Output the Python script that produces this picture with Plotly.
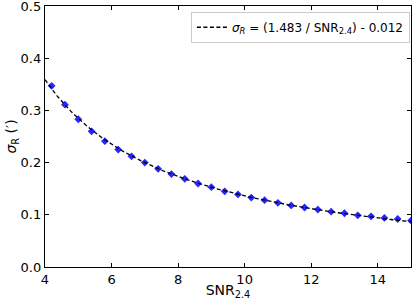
import numpy as np
import plotly.graph_objects as go

snr = [4.2, 4.6, 5.0, 5.4, 5.8, 6.2, 6.6, 7.0, 7.4, 7.8, 8.2, 8.6, 9.0, 9.4,
       9.8, 10.2, 10.6, 11.0, 11.4, 11.8, 12.2, 12.6, 13.0, 13.4, 13.8, 14.2, 14.6, 15.0]
sigma_r = [0.347, 0.311, 0.283, 0.260, 0.241, 0.225, 0.212, 0.200, 0.188, 0.178,
           0.169, 0.160, 0.153, 0.145, 0.139, 0.133, 0.128, 0.123, 0.118, 0.114,
           0.110, 0.106, 0.103, 0.099, 0.097, 0.094, 0.092, 0.089]
fit_a = 1.483
fit_b = 0.012

x_fit = np.linspace(4.0, 15.0, 200)
y_fit = fit_a / x_fit - fit_b

font = "DejaVu Sans"
fig = go.Figure()
fig.add_trace(go.Scatter(
    x=snr, y=sigma_r, mode="markers", showlegend=False,
    marker=dict(symbol="diamond", size=6, color="#2626ff", line=dict(width=0)),
    cliponaxis=True,
))
fig.add_trace(go.Scatter(
    x=x_fit, y=y_fit, mode="lines",
    name="<i>σ<sub>R</sub></i> = (1.483 / SNR<sub>2.4</sub>) - 0.012",
    line=dict(color="black", width=1.3, dash="4px,2.5px"),
))

axis_common = dict(
    showline=True, linecolor="black", linewidth=1.3, mirror="ticks",
    ticks="inside", ticklen=4, tickwidth=1, tickcolor="black",
    showgrid=False, zeroline=False, automargin=False,
    ticklabeloverflow="allow",
    tickfont=dict(family=font, size=13, color="black"),
)
fig.update_xaxes(range=[4, 15], tickvals=[4, 6, 8, 10, 12, 14],
                 title=dict(text="SNR<sub>2.4</sub>", font=dict(family=font, size=14, color="black"), standoff=4),
                 **axis_common)
fig.update_yaxes(range=[0, 0.5], tickvals=[0, 0.1, 0.2, 0.3, 0.4, 0.5],
                 tickformat=".1f",
                 title=dict(text="<i>σ</i><sub>R</sub> (′)", font=dict(family=font, size=14, color="black"), standoff=0),
                 **axis_common)
fig.update_layout(
    width=415, height=300,
    margin=dict(l=45, r=4, t=6, b=33, autoexpand=False),
    paper_bgcolor="white", plot_bgcolor="white",
    legend=dict(x=0.997, y=0.978, xanchor="right", yanchor="top",
                bgcolor="rgba(255,255,255,0.8)", bordercolor="#cccccc", borderwidth=1,
                font=dict(family=font, size=12, color="black"),
                itemwidth=30, tracegroupgap=0),
)
fig.write_html("out.html", config={"displayModeBar": False},
               post_script="document.body.style.margin='0';document.body.style.padding='0';")
